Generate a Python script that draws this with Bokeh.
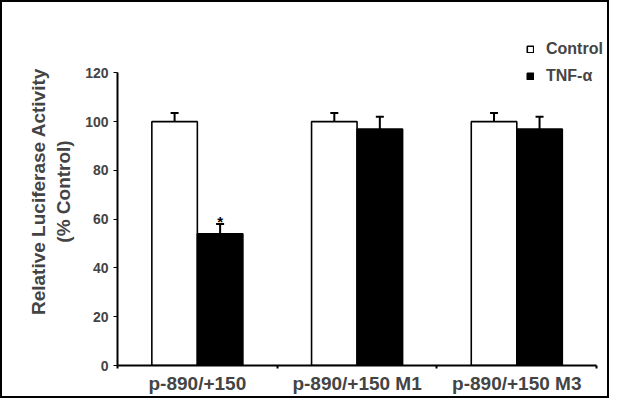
from bokeh.plotting import figure
from bokeh.models import ColumnDataSource, FixedTicker, Whisker, TeeHead, Range1d, Legend, LegendItem
from bokeh.core.properties import value
from bokeh.embed import file_html
from bokeh.resources import INLINE

# ---- data ----
groups = ["p-890/+150", "p-890/+150 M1", "p-890/+150 M3"]
control = [100, 100, 100]
control_err = [3.5, 3.5, 3.5]
tnf = [54, 97, 97]
tnf_err = [4, 5, 5]
significance = ["*", "", ""]
y_ticks = [0, 20, 40, 60, 80, 100, 120]
series_names = ["Control", "TNF-\u03b1"]

FONT = "Liberation Sans"
BAR_W = 0.285
OFF = 0.1425

centers = [i + 0.5 for i in range(len(groups))]
cx = [c - OFF for c in centers]
tx = [c + OFF for c in centers]

src_c = ColumnDataSource(dict(x=cx, top=control,
                              upper=[v + e for v, e in zip(control, control_err)]))
src_t = ColumnDataSource(dict(x=tx, top=tnf,
                              upper=[v + e for v, e in zip(tnf, tnf_err)],
                              sig=significance))

p = figure(width=609, height=398, output_backend="svg", toolbar_location=None,
           x_range=Range1d(0, 3.093), y_range=Range1d(0, 142.7),
           min_border_left=115, min_border_right=0, min_border_top=15, min_border_bottom=35)
p.styles = {"border": "2px solid black"}
p.outline_line_color = None
p.xgrid.visible = False
p.ygrid.visible = False
p.background_fill_color = "white"
p.border_fill_color = "white"

rc = p.vbar(x="x", top="top", width=BAR_W, source=src_c, fill_color="white",
            line_color="black", line_width=1.6)
rt = p.vbar(x="x", top="top", width=BAR_W, source=src_t, fill_color="black",
            line_color="black", line_width=1.6)

for src in (src_c, src_t):
    w = Whisker(base="x", lower="top", upper="upper", source=src, dimension="height",
                line_color="black", line_width=2,
                upper_head=TeeHead(size=8, line_color="black", line_width=2),
                lower_head=None)
    p.add_layout(w)

p.text(x="x", y="upper", text="sig", source=src_t, text_align="center",
       text_baseline="alphabetic", y_offset=-3, text_font=value(FONT),
       text_font_size="15px", text_font_style="bold", text_color="black")

# y axis
p.yaxis.ticker = FixedTicker(ticks=y_ticks)
p.yaxis.bounds = (0, 120)
p.yaxis.axis_line_width = 2
p.yaxis.major_tick_out = 4
p.yaxis.major_tick_in = 0
p.yaxis.minor_tick_line_color = None
p.yaxis.major_label_text_font = FONT
p.yaxis.major_label_text_font_style = "bold"
p.yaxis.major_label_text_font_size = "14px"
p.yaxis.major_label_standoff = 5
p.yaxis.axis_label = "Relative Luciferase Activity\n(% Control)"
p.yaxis.axis_label_text_font = FONT
p.yaxis.axis_label_text_font_style = "bold"
p.yaxis.axis_label_text_font_size = "19px"
p.yaxis.axis_label_standoff = 8

# x axis
p.xaxis.ticker = FixedTicker(ticks=centers, minor_ticks=list(range(len(groups) + 1)))
p.xaxis.major_label_overrides = {c: g for c, g in zip(centers, groups)}
p.xaxis.bounds = (0, 3)
p.xaxis.axis_line_width = 2
p.xaxis.major_tick_line_color = None
p.xaxis.major_tick_out = 0
p.xaxis.major_tick_in = 0
p.xaxis.minor_tick_out = 3
p.xaxis.minor_tick_in = 0
p.xaxis.minor_tick_line_width = 2
p.xaxis.major_label_text_font = FONT
p.xaxis.major_label_text_font_style = "bold"
p.xaxis.major_label_text_font_size = "19px"
p.xaxis.major_label_standoff = 4

legend = Legend(items=[LegendItem(label=series_names[0], renderers=[rc]),
                       LegendItem(label=series_names[1], renderers=[rt])],
                location=(409, 280), padding=0, margin=0, spacing=9,
                glyph_width=8, glyph_height=8, label_standoff=12,
                border_line_color=None, background_fill_alpha=0,
                label_text_font=FONT, label_text_font_style="bold",
                label_text_font_size="16px")
p.add_layout(legend, "center")

open("out.html", "w").write(file_html(p, INLINE))
